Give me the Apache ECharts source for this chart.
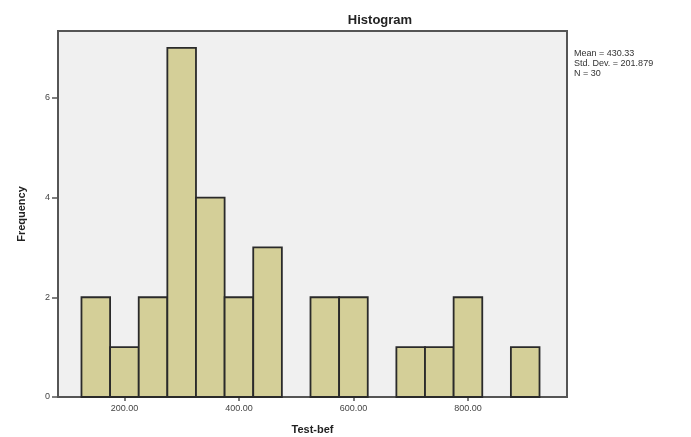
<!DOCTYPE html>
<html>
<head>
<meta charset="utf-8">
<script src="https://cdn.jsdelivr.net/npm/echarts@6/dist/echarts.min.js"></script>
<style>html,body{margin:0;padding:0;background:#fff;}#c{width:691px;height:437px;}</style>
</head>
<body>
<div id="c"></div>
<script>
const binStarts = [125,175,225,275,325,375,425,475,525,575,625,675,725,775,825,875];
const binWidth = 50;
const counts = [2,1,2,7,4,2,3,0,2,2,0,1,1,2,0,1];
const xTicks = [200,400,600,800];
const yTicks = [0,2,4,6];
const statsLines = ['Mean = 430.33','Std. Dev. = 201.879','N = 30'];

const data = binStarts.map((s,i)=>[s, s+binWidth, counts[i]]).filter(d=>d[2]>0);

const chart = echarts.init(document.getElementById('c'));
chart.setOption({
  animation:false,
  backgroundColor:'#ffffff',
  title:{text:'Histogram', left:375, top:9, textAlign:'center',
    textStyle:{fontFamily:'Liberation Sans, Arial', fontSize:13, fontWeight:'bold', color:'#222'}},
  grid:{left:58, right:124, top:31, bottom:40, show:true, backgroundColor:'#f0f0f0', borderColor:'#555', borderWidth:2,
    containLabel:false, outerBoundsMode:'none'},
  xAxis:{type:'value', min:84, max:973,
    name:'Test-bef', nameLocation:'middle', nameGap:27,
    nameTextStyle:{fontFamily:'Liberation Sans, Arial', fontSize:11, fontWeight:'bold', color:'#222'},
    axisLine:{show:true, lineStyle:{color:'#555', width:2}},
    axisTick:{show:true, customValues:xTicks, length:4, lineStyle:{color:'#555', width:1.5}},
    axisLabel:{customValues:xTicks, formatter:v=>v.toFixed(2), fontFamily:'Liberation Sans, Arial', fontSize:9, color:'#444', margin:7},
    splitLine:{show:false}},
  yAxis:{type:'value', min:0, max:7.34,
    name:'Frequency', nameLocation:'middle', nameGap:31, nameRotate:90,
    nameTextStyle:{fontFamily:'Liberation Sans, Arial', fontSize:11, fontWeight:'bold', color:'#222'},
    axisLine:{show:true, lineStyle:{color:'#555', width:2}},
    axisTick:{show:true, customValues:yTicks, length:6, lineStyle:{color:'#555', width:1.5}},
    axisLabel:{customValues:yTicks, fontFamily:'Liberation Sans, Arial', fontSize:9, color:'#444', margin:8},
    splitLine:{show:false}},
  graphic:[{type:'text', left:574, top:49, style:{text:statsLines.join('\n'), fontFamily:'Liberation Sans, Arial', fontSize:9, lineHeight:10, fill:'#333'}}],
  series:[{type:'custom', data:data,
    renderItem:function(params, api){
      const p0 = api.coord([api.value(0), 0]);
      const p1 = api.coord([api.value(1), api.value(2)]);
      return {type:'rect', shape:{x:p0[0], y:p1[1], width:p1[0]-p0[0], height:p0[1]-p1[1]},
        style:{fill:'#d4cf98', stroke:'#2a2a2a', lineWidth:1.8}};
    },
    encode:{x:[0,1], y:2}
  }]
});
</script>
</body>
</html>
